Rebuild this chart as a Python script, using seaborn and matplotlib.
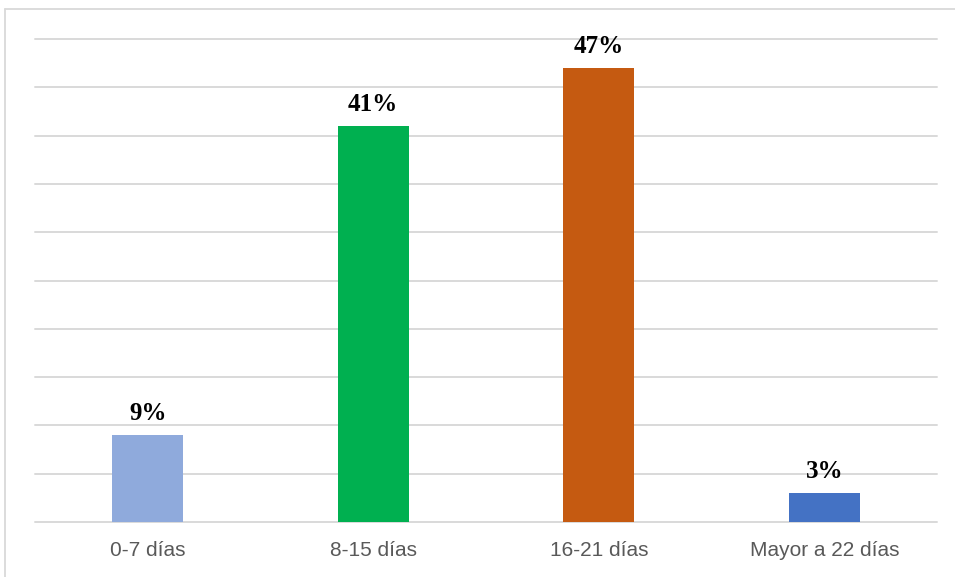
import matplotlib
matplotlib.use("Agg")
import matplotlib.pyplot as plt
import seaborn as sns
import pandas as pd
from matplotlib.lines import Line2D

categories = ["0-7 días", "8-15 días", "16-21 días", "Mayor a 22 días"]
values = [9, 41, 47, 3]
labels = ["9%", "41%", "47%", "3%"]
colors = ["#8FAADC", "#00B050", "#C55A11", "#4472C4"]

sns.set_theme(style="white")
plt.rcParams['font.family'] = ['Liberation Sans', 'DejaVu Sans']

W, H = 955, 577
fig = plt.figure(figsize=(W/100, H/100), dpi=100)
ax = fig.add_axes([35/W, 1-522/H, (937-35)/W, (522-39)/H])

df = pd.DataFrame({"cat": categories, "val": values})
sns.barplot(data=df, x="cat", y="val", hue="cat", palette=colors, legend=False,
            width=0.315, ax=ax, saturation=1, zorder=3, linewidth=0)

ax.set_ylim(0, 50)
ax.set_yticks(range(0, 51, 5))
ax.yaxis.grid(True, color="#D9D9D9", linewidth=1.4, zorder=0)
for gl in ax.get_ygridlines():
    gl.set_clip_on(False)
ax.set_axisbelow(True)
ax.tick_params(axis="y", left=False, labelleft=False)
ax.tick_params(axis="x", bottom=False, colors="#595959", labelsize=15, pad=8)
for s in ax.spines.values():
    s.set_visible(False)
ax.set_xlabel("")
ax.set_ylabel("")

for i, (v, t) in enumerate(zip(values, labels)):
    ax.annotate(t, (i, v), xytext=(0, 7), textcoords="offset points",
                ha="center", va="bottom", fontsize=18, fontweight="bold",
                family=["Liberation Serif", "DejaVu Serif"], color="black")

# outer frame (top and left edges)
fig.add_artist(Line2D([5/W, 1], [1-9/H, 1-9/H], transform=fig.transFigure,
                      color="#D9D9D9", linewidth=1.3))
fig.add_artist(Line2D([5/W, 5/W], [0, 1-9/H], transform=fig.transFigure,
                      color="#D9D9D9", linewidth=1.3))

fig.savefig("out.png", dpi=100, facecolor="white")
